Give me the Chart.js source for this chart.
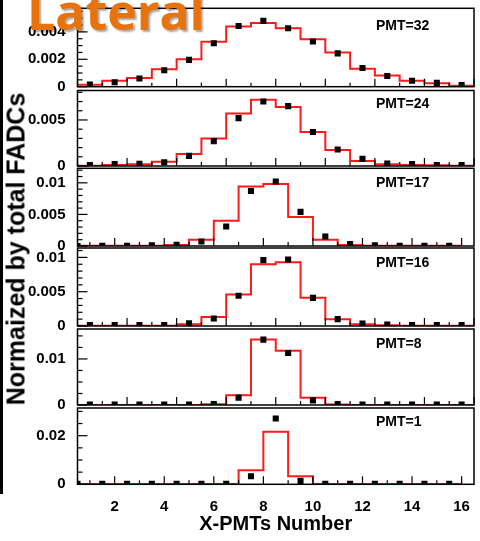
<!DOCTYPE html>
<html>
<head>
<meta charset="utf-8">
<script src="https://cdn.jsdelivr.net/npm/chart.js@4"></script>
<style>
  body { margin: 0; width: 480px; height: 541px; position: relative; background: #fff; overflow: hidden; }
  canvas { position: absolute; left: 0; }
  #strip { position: absolute; left: 0; top: 0; width: 3px; height: 494px; background: #000; }
  #ytitle { position: absolute; left: 16px; top: 249px; transform: translate(-50%, -50%) rotate(-90deg);
            font: bold 25px "Liberation Sans", Arial, sans-serif; white-space: nowrap; color: #000; }
  #lateral { position: absolute; left: 27px; top: -14px; font: bold 50px "Open Sans", sans-serif; line-height: 50px;
             color: #e8720c; text-shadow: 2px 2px 2px rgba(0,0,0,0.35); z-index: 5; }
</style>
</head>
<body>
<div id="strip"></div>
<canvas id="p32"></canvas>
<canvas id="p24"></canvas>
<canvas id="p17"></canvas>
<canvas id="p16"></canvas>
<canvas id="p8"></canvas>
<canvas id="p1"></canvas>
<div id="ytitle">Normaized by total FADCs</div>
<div id="lateral">Lateral</div>
<script>
// bin centres: some panels sit on whole numbers, some on half numbers
const xWhole = [1, 2, 3, 4, 5, 6, 7, 8, 9, 10, 11, 12, 13, 14, 15, 16];
const xHalf = [0.5, 1.5, 2.5, 3.5, 4.5, 5.5, 6.5, 7.5, 8.5, 9.5, 10.5, 11.5, 12.5, 13.5, 14.5, 15.5];
const xLabels = [2, 4, 6, 8, 10, 12, 14, 16];

// red histogram (simulation) and black squares (data), per PMT
const hist32 = [0.00015, 0.00044, 0.00064, 0.00128, 0.0020, 0.00328, 0.0044, 0.00464, 0.00427, 0.00346, 0.0025, 0.00131, 0.00081, 0.00044, 0.00025, 0.00007];
const pts32 = [0.00016, 0.00033, 0.0006, 0.0012, 0.00196, 0.00317, 0.00443, 0.0048, 0.00426, 0.0033, 0.00243, 0.00137, 0.00078, 0.00043, 0.00028, 0.00013];

const hist24 = [0.00004, 0.0001, 0.0002, 0.00047, 0.0013, 0.003, 0.0057, 0.0072, 0.0064, 0.0037, 0.00175, 0.00055, 0.0002, 0.0001, 0.00007, 0.00004];
const pts24 = [0.0001, 0.0002, 0.00025, 0.0004, 0.0011, 0.0027, 0.0052, 0.007, 0.0065, 0.0037, 0.0018, 0.00077, 0.00026, 0.0002, 0.0001, 0.0001];

const hist17 = [0.00002, 0.00002, 0.00002, 0.00002, 0.00015, 0.001, 0.004, 0.0094, 0.0098, 0.0046, 0.001, 0.00015, 0.00005, 0.00002, 0.00002, 0.00002];
const pts17 = [0, 0.00005, 0.00005, 0.0001, 0.0002, 0.0007, 0.0031, 0.0087, 0.0102, 0.0054, 0.0015, 0.0003, 0.0001, 0.00005, 0.00005, 0.00005];

const hist16 = [0.00003, 0.00003, 0.00003, 0.00003, 0.00025, 0.0013, 0.0046, 0.009, 0.0093, 0.0041, 0.001, 0.00025, 0.0001, 0.00003, 0.00003, 0.00003];
const pts16 = [0.00015, 0.00015, 0.00015, 0.00015, 0.0004, 0.0011, 0.0044, 0.0096, 0.0097, 0.0041, 0.001, 0.00035, 0.0002, 0.00015, 0.00015, 0.00015];

const hist8 = [0, 0, 0, 0, 0, 0.00015, 0.0021, 0.0142, 0.0118, 0.0016, 0.0001, 0, 0, 0, 0, 0];
const pts8 = [0.0001, 0.0001, 0.0001, 0.0001, 0.0001, 0.0002, 0.0016, 0.0142, 0.0113, 0.001, 0.0002, 0.0001, 0.0001, 0.0001, 0.0001, 0.0001];

const hist1 = [0.0001, 0.0001, 0.0001, 0.0001, 0.0001, 0.0001, 0.0001, 0.0058, 0.0216, 0.0033, 0.0001, 0.0001, 0.0001, 0.0001, 0.0001, 0.0001];
const pts1 = [0.0002, 0.0002, 0.0002, 0.0002, 0.0002, 0.0002, 0.0002, 0.0033, 0.0271, 0.0014, 0.0002, 0.0002, 0.0002, 0.0002, 0.0002, 0.0002];

const font = '"Liberation Sans", Arial, sans-serif';

// panel frames (px) and axis settings
const panels = [
  { id: 'p32', label: 'PMT=32', labelDy: 18, xs: xWhole, hist: hist32, pts: pts32, top: 8.3, bottom: 86.7, yMax: 0.00572, yLabels: [0, 0.002, 0.004], yMajor: 0.002, yMinor: 0.0005 },
  { id: 'p24', label: 'PMT=24', labelDy: 14, xs: xWhole, hist: hist24, pts: pts24, top: 90.5, bottom: 166, yMax: 0.0082, yLabels: [0, 0.005], yMajor: 0.005, yMinor: 0.001 },
  { id: 'p17', label: 'PMT=17', labelDy: 15, xs: xHalf, hist: hist17, pts: pts17, top: 168.3, bottom: 246, yMax: 0.0123, yLabels: [0, 0.005, 0.01], yMajor: 0.005, yMinor: 0.001 },
  { id: 'p16', label: 'PMT=16', labelDy: 15, xs: xWhole, hist: hist16, pts: pts16, top: 248, bottom: 326, yMax: 0.01137, yLabels: [0, 0.005, 0.01], yMajor: 0.005, yMinor: 0.001 },
  { id: 'p8', label: 'PMT=8', labelDy: 15, xs: xWhole, hist: hist8, pts: pts8, top: 329, bottom: 405, yMax: 0.0165, yLabels: [0, 0.01], yMajor: 0.01, yMinor: 0.0025 },
  { id: 'p1', label: 'PMT=1', labelDy: 14, xs: xHalf, hist: hist1, pts: pts1, top: 408, bottom: 484.3, yMax: 0.0314, yLabels: [0, 0.02], yMajor: 0.02, yMinor: 0.005 }
];

// ROOT style frame: box, inward ticks, PMT label
const frameTicks = {
  id: 'frameTicks',
  afterDraw(chart) {
    const p = chart.options.plugins.frameTicks;
    const { ctx, chartArea: a, scales: { x, y } } = chart;
    ctx.save();
    ctx.strokeStyle = '#000';
    ctx.lineWidth = 1.2;
    for (let i = 0; i * p.yMinor <= y.max + 1e-9; i++) {
      const v = i * p.yMinor;
      const r = v / p.yMajor;
      const major = Math.abs(r - Math.round(r)) < 1e-6;
      const py = y.getPixelForValue(v);
      ctx.beginPath();
      ctx.moveTo(a.left, py);
      ctx.lineTo(a.left + (major ? 10 : 5), py);
      ctx.stroke();
    }
    const half = p.xs[0] === 0.5;
    for (let k = 0; k <= 16; k++) {
      const v = half ? k : k + 0.5;
      if (v < x.min || v > x.max) continue;
      const px = x.getPixelForValue(v);
      const major = k % 2 === 0;
      ctx.beginPath();
      ctx.moveTo(px, a.bottom);
      ctx.lineTo(px, a.bottom - (major ? 8 : 4));
      ctx.stroke();
    }
    ctx.lineWidth = 1.5;
    ctx.strokeRect(a.left, a.top, a.right - a.left, a.bottom - a.top);
    ctx.fillStyle = '#000';
    ctx.font = 'bold 14px ' + font;
    ctx.textBaseline = 'middle';
    ctx.fillText(p.label, a.right - 98, a.top + p.labelDy);
    ctx.restore();
  }
};

panels.forEach((p, n) => {
  const last = n === panels.length - 1;
  const canvas = document.getElementById(p.id);
  const cTop = Math.floor(p.top) - 10;
  const cBottom = last ? 541 : Math.ceil(p.bottom) + 10;
  canvas.width = 480;
  canvas.height = cBottom - cTop;
  canvas.style.top = cTop + 'px';

  const steps = p.hist.map((v, i) => ({ x: p.xs[i] - 0.5, y: v }));
  steps.push({ x: p.xs[p.xs.length - 1] + 0.5, y: p.hist[p.hist.length - 1] });
  const points = p.pts.map((v, i) => ({ x: p.xs[i], y: v }));

  new Chart(canvas, {
    type: 'scatter',
    data: {
      datasets: [
        { data: points, pointStyle: 'rect', pointRadius: 4.3, backgroundColor: '#000', borderColor: '#000', borderWidth: 0, order: 0 },
        { data: steps, showLine: true, stepped: true, borderColor: '#ff1a1a', borderWidth: 2, pointRadius: 0, fill: false, order: 1 }
      ]
    },
    options: {
      responsive: false,
      animation: false,
      layout: { padding: { top: p.top - cTop, bottom: last ? 0 : cBottom - p.bottom, left: 0, right: 6 } },
      plugins: {
        legend: { display: false },
        tooltip: { enabled: false },
        frameTicks: p
      },
      scales: {
        x: {
          type: 'linear', min: 0.5, max: 16.5,
          display: last,
          grid: { display: false, drawTicks: false },
          border: { display: false },
          afterBuildTicks: s => { s.ticks = xLabels.map(v => ({ value: v })); },
          afterFit: s => {
            s.paddingLeft = 0;
            s.paddingRight = 0;
            if (last) s.height = 541 - p.bottom;
          },
          ticks: { color: '#000', font: { family: font, size: 15, weight: 'bold' }, padding: 14, maxRotation: 0, autoSkip: false },
          title: { display: true, text: 'X-PMTs Number', color: '#000', font: { family: font, size: 20, weight: 'bold' }, padding: { top: 0, bottom: 5 } }
        },
        y: {
          min: 0, max: p.yMax,
          grid: { display: false, drawTicks: false },
          border: { display: false },
          afterBuildTicks: s => { s.ticks = p.yLabels.map(v => ({ value: v })); },
          afterFit: s => {
            s.width = 77.5;
            s.paddingTop = 0;
            s.paddingBottom = 0;
          },
          ticks: { color: '#000', font: { family: font, size: 15, weight: 'bold' }, padding: 12,
                   callback: v => v === 0 ? '0' : String(+v.toFixed(4)) }
        }
      }
    },
    plugins: [frameTicks]
  });
});
</script>
</body>
</html>
